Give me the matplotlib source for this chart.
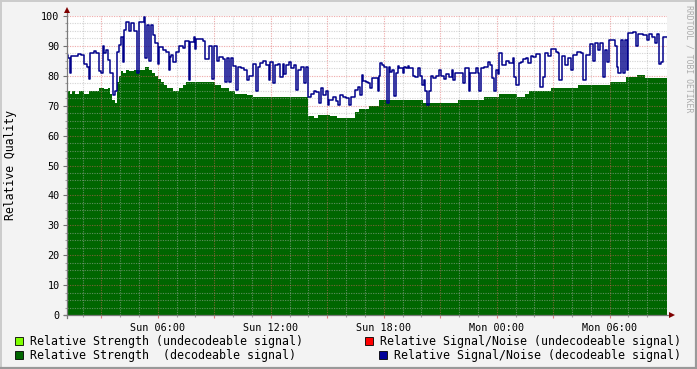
import matplotlib
matplotlib.use('Agg')
import matplotlib.pyplot as plt
from matplotlib.patches import Rectangle
from matplotlib.ticker import FixedLocator, FuncFormatter
import numpy as np

# ---------------- data (hours since Sun 00:00) ----------------
t_start, t_end = 1.15, 33.02

strength_hours = [1.17, 1.33, 1.43, 1.60, 1.80, 2.07, 2.34, 2.87, 3.13, 3.35, 3.45, 3.56, 3.72,
                  3.82, 3.93, 4.04, 4.14, 4.30, 4.46, 4.73, 5.31, 5.52, 5.68, 5.84, 6.00, 6.16,
                  6.32, 6.48, 6.80, 7.12, 7.33, 7.49, 9.03, 9.35, 9.77, 10.09, 10.73, 11.04,
                  13.96, 14.28, 14.50, 15.14, 15.50, 16.46, 16.67, 17.20, 17.73, 20.07, 20.44,
                  21.93, 23.31, 24.11, 25.06, 25.49, 25.70, 26.87, 28.30, 30.00, 30.85, 31.43,
                  31.86]
strength_values = [75, 74, 75, 74, 75, 74, 75, 76, 75.5, 76, 74, 72, 71,
                   78, 80, 81.5, 81, 82, 81.5, 82, 83, 82, 81, 80, 79, 78,
                   77, 76, 75, 76, 77, 78, 77, 76, 75, 74, 73.5, 73,
                   66.5, 66, 67, 66.5, 66, 68, 69, 70, 72, 71, 71,
                   72, 73, 74, 73, 74, 75, 76, 77, 78, 79.5, 80.3,
                   79.4]

snr_hours = [1.17, 1.25, 1.33, 1.38, 1.75, 1.91, 2.07, 2.23, 2.34, 2.39, 2.60, 2.71, 2.87, 2.97,
             3.08, 3.13, 3.24, 3.35, 3.45, 3.61, 3.72, 3.82, 3.93, 4.04, 4.14, 4.19, 4.30, 4.46,
             4.57, 4.73, 4.89, 4.99, 5.26, 5.31, 5.42, 5.52, 5.63, 5.73, 5.84, 6.00, 6.05, 6.27,
             6.42, 6.58, 6.63, 6.69, 6.80, 6.96, 7.12, 7.33, 7.43, 7.65, 7.72, 7.91, 7.96, 8.02,
             8.39, 8.50, 8.71, 8.87, 8.97, 9.13, 9.24, 9.45, 9.56, 9.66, 9.77, 9.88, 9.98, 10.14,
             10.25, 10.41, 10.57, 10.73, 10.83, 11.04, 11.20, 11.31, 11.42, 11.58, 11.73, 11.89,
             11.95, 12.11, 12.21, 12.37, 12.48, 12.64, 12.69, 12.80, 12.96, 13.06, 13.22, 13.33,
             13.43, 13.59, 13.75, 13.86, 13.96, 14.12, 14.28, 14.39, 14.55, 14.66, 14.76, 14.92,
             15.03, 15.08, 15.29, 15.45, 15.56, 15.66, 15.82, 15.98, 16.14, 16.25, 16.46, 16.62,
             16.73, 16.83, 16.89, 17.04, 17.15, 17.26, 17.36, 17.68, 17.73, 17.79, 17.89, 18.00,
             18.16, 18.27, 18.32, 18.42, 18.53, 18.64, 18.74, 18.80, 19.01, 19.06, 19.17, 19.27,
             19.33, 19.54, 19.65, 19.81, 19.91, 20.02, 20.12, 20.18, 20.28, 20.39, 20.50, 20.60,
             20.76, 20.92, 21.03, 21.19, 21.29, 21.45, 21.61, 21.66, 21.77, 22.19, 22.30, 22.51,
             22.57, 22.89, 22.99, 23.04, 23.15, 23.31, 23.52, 23.63, 23.73, 23.84, 23.95, 24.05,
             24.11, 24.27, 24.48, 24.64, 24.85, 24.90, 25.01, 25.17, 25.27, 25.38, 25.54, 25.65,
             25.81, 25.91, 26.07, 26.28, 26.44, 26.55, 26.71, 26.87, 27.13, 27.24, 27.29, 27.45,
             27.61, 27.77, 27.93, 28.04, 28.25, 28.46, 28.57, 28.73, 28.94, 29.10, 29.20, 29.36,
             29.47, 29.63, 29.74, 29.84, 29.95, 30.27, 30.37, 30.42, 30.58, 30.69, 30.80, 30.90,
             30.96, 31.22, 31.38, 31.49, 31.75, 31.97, 32.07, 32.23, 32.39, 32.50, 32.60, 32.71,
             32.82]
snr_values = [87, 86, 81, 86.5, 87.3, 87, 84, 83, 79, 87.6, 88.3, 87.6, 81.6, 81,
              90, 87.6, 88.6, 85.3, 81, 73.6, 75, 88, 90.3, 93, 84.6, 95.3, 98, 95,
              97.6, 95, 81, 98, 99.7, 86, 97, 85, 97, 93.6, 91, 84, 89.6, 88.6,
              88, 82, 86.3, 87, 84.6, 88, 90, 89.3, 91.6, 78.6, 91.3, 93, 89, 92.3,
              91.6, 85.6, 90, 79, 90, 85, 86.3, 85.6, 78, 86, 78, 86, 83.3, 75.3,
              83, 82.6, 82, 78.6, 80, 84, 75, 83, 84.3, 85, 83.6, 78.6,
              84.6, 77.6, 83.6, 84, 79.6, 84, 80.6, 83.6, 84.6, 82.6, 83.6, 75.3,
              82, 83, 77.6, 83, 73, 74, 75, 74.6, 71, 76, 73.6, 75,
              70.2, 72, 73, 71.6, 70.3, 73.6, 73, 72.6, 70.3, 73, 75.3, 76.2,
              73.6, 80.3, 78.3, 78, 77.6, 76, 79.3, 75, 80, 84.3, 83.6, 83,
              71, 83, 81.3, 82, 73.3, 81, 83.3, 82.5, 81, 83, 82.5, 83.3,
              82.5, 80, 79.6, 82.5, 80, 76.9, 78.6, 75, 70.2, 75, 80, 79.3,
              80, 82, 80, 79, 80.6, 79.6, 82, 78.6, 81, 77.6, 82.5, 75,
              81, 82.6, 81, 75, 82.5, 83, 84.6, 83.6, 79.3, 75, 82, 80.6,
              87.6, 83.6, 85, 84.3, 86, 79.6, 77, 84.3, 84.6, 85.6, 86, 84.3,
              86.6, 86.3, 87.3, 76.2, 79.6, 87.6, 86.6, 89, 88, 87.6, 78.6, 86.6,
              83.6, 86, 82, 87, 88, 87.5, 78.5, 87, 90.5, 85, 91, 88.5,
              91, 79.6, 88.6, 84.6, 92, 90, 83, 81, 92, 81, 92, 82,
              94.3, 94.6, 90, 94, 93.6, 92, 94, 93, 91, 94, 84, 84.6,
              93]

x_tick_hours = [6, 12, 18, 24, 30]
x_tick_labels = ['Sun 06:00', 'Sun 12:00', 'Sun 18:00', 'Mon 00:00', 'Mon 06:00']
y_ticks = [0, 10, 20, 30, 40, 50, 60, 70, 80, 90, 100]

legend_labels = ['Relative Strength (undecodeable signal)',
                 'Relative Signal/Noise (undecodeable signal)',
                 'Relative Strength  (decodeable signal)',
                 'Relative Signal/Noise (decodeable signal)']
legend_colors = ['#7FFF00', '#FF0000', '#006600', '#000099']

# ---------------- figure ----------------
W, H = 697, 369
MONO = 'DejaVu Sans Mono'
fig = plt.figure(figsize=(W / 100, H / 100), dpi=100, facecolor='#F3F3F3')
ax = fig.add_axes([66.5 / W, 54 / H, 600 / W, 299 / H])
ax.set_facecolor('white')

sh = strength_hours + [t_end]
sv = strength_values + [strength_values[-1]]
ax.fill_between(sh, sv, 0, step='post', color='#006600', lw=0, zorder=1)

nh = snr_hours + [t_end]
nv = snr_values + [snr_values[-1]]
ax.step(nh, nv, where='post', color='#00008A', lw=1.1, zorder=3)

ax.set_xlim(t_start, t_end)
ax.set_ylim(0, 100)

# grid
for h in np.arange(2, 33, 1):
    major = (h % 3 == 0)
    ax.axvline(h, color='#E06060' if major else '#B0B0B0', alpha=0.5,
               lw=0.8, dashes=(1.1, 1.1), zorder=2)
for y in np.arange(2.5, 100.1, 2.5):
    major = (y % 10 == 0)
    ax.axhline(y, color='#E06060' if major else '#B0B0B0', alpha=0.5,
               lw=0.8, dashes=(1.1, 1.1), zorder=2)

for s in ax.spines.values():
    s.set_visible(False)

ax.xaxis.set_major_locator(FixedLocator(np.arange(3, 33, 3)))
lab = dict(zip(x_tick_hours, x_tick_labels))
ax.xaxis.set_major_formatter(FuncFormatter(lambda v, p: lab.get(int(round(v)), '')))
ax.xaxis.set_minor_locator(FixedLocator(np.arange(2, 33, 1)))
ax.set_yticks(y_ticks)
ax.yaxis.set_minor_locator(FixedLocator(np.arange(2.5, 100, 2.5)))
ax.tick_params(axis='x', which='major', length=2.5, width=0.8, color='#E08080', pad=3.5,
               labelsize=7.3, labelfontfamily=MONO)
ax.tick_params(axis='x', which='minor', length=1.5, width=0.8, color='#A0A0A0')
ax.tick_params(axis='y', which='major', length=3, width=0.8, color='#707070', pad=2,
               labelsize=7.3, labelfontfamily=MONO)
ax.tick_params(axis='y', which='minor', length=1.5, width=0.8, color='#A0A0A0')

# overlay in pixel coordinates for decorations
ov = fig.add_axes([0, 0, 1, 1], facecolor='none')
ov.set_xlim(0, W)
ov.set_ylim(H, 0)
ov.axis('off')
ov.set_zorder(5)

# axes lines with arrows
ov.plot([67, 67], [318, 10], color='#7A7A7A', lw=0.9)
ov.plot([64, 672], [315, 315], color='#7A7A7A', lw=0.9)
ov.plot([67], [10], marker='^', color='#7F0000', markersize=4.5, markeredgewidth=0)
ov.plot([672], [315], marker='>', color='#7F0000', markersize=4.5, markeredgewidth=0)

# frame shading
ov.plot([0, W], [0.5, 0.5], color='#CBCBCB', lw=1.4)
ov.plot([0.5, 0.5], [0, H], color='#CBCBCB', lw=1.4)
ov.plot([0, W], [H - 1, H - 1], color='#999999', lw=1.6)
ov.plot([W - 1, W - 1], [0, H], color='#999999', lw=1.6)

# y label
ov.text(11, 165, 'Relative Quality', rotation=90, ha='center', va='center',
        fontsize=8.3, family=MONO, color='black')

# watermark
ov.text(688.5, 5, 'RRDTOOL / TOBI OETIKER', rotation=270, ha='center', va='top',
        fontsize=5.9, family=MONO, color='#ACACAC')

# legend
leg_pos = [(15, 341), (365, 341), (15, 355), (379, 355)]
for (lx, ly), txt, col in zip(leg_pos, legend_labels, legend_colors):
    ov.add_patch(Rectangle((lx, ly - 4), 8, 8, facecolor=col, edgecolor='black', lw=0.6))
    ov.text(lx + 15, ly, txt, ha='left', va='center', fontsize=8.4, family=MONO, color='black')

fig.savefig('out.png', dpi=100, facecolor=fig.get_facecolor())
